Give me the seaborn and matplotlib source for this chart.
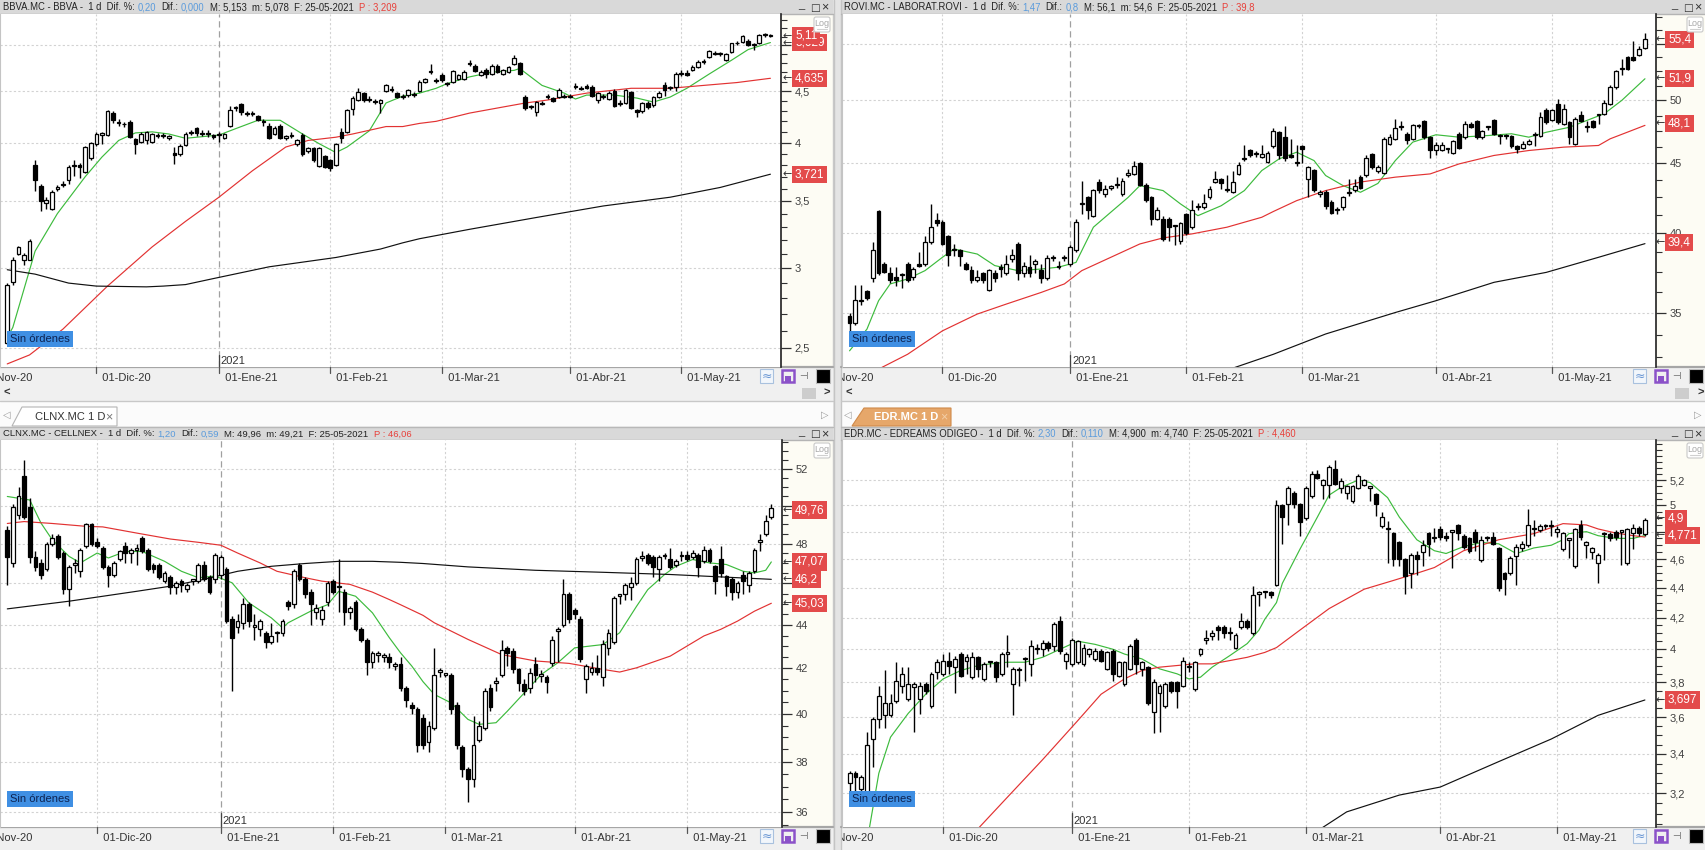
import numpy as np
import matplotlib
matplotlib.use("Agg")
import matplotlib.pyplot as plt
import seaborn as sns
from matplotlib.lines import Line2D
from matplotlib.patches import Rectangle, FancyBboxPatch, Polygon
from matplotlib.transforms import Affine2D, blended_transform_factory
from matplotlib.ticker import FixedLocator, FuncFormatter, NullFormatter

W, H = 1706, 850

GREEN = "#3dbb3d"
RED = "#e23232"
BLACK = "#111111"
TXT = "#222222"
BLUE_TXT = "#5a9bdc"
RED_TXT = "#e8403a"
LABEL_RED = "#e34b4b"

# ---- time axis: trading-day index, 0 = 09-Nov-2020 ----
month_day = [-6, 16, 38, 58, 78, 101, 121]
month_labels = ["01-Nov-20", "01-Dic-20", "01-Ene-21", "01-Feb-21", "01-Mar-21", "01-Abr-21", "01-May-21"]
year_day = 38

# ---- BBVA ----
bbva_open = [2.53, 2.91, 3.10, 3.06, 3.06, 3.80, 3.62, 3.48, 3.44, 3.60,
             3.63, 3.67, 3.79, 3.80, 3.74, 3.86, 3.99, 4.07, 4.07, 4.28,
             4.19, 4.17, 4.19, 4.03, 4.01, 4.02, 4.01, 4.07, 4.06, 4.04,
             3.91, 3.90, 3.98, 4.09, 4.14, 4.08, 4.09, 4.07, 4.07, 4.04,
             4.16, 4.33, 4.37, 4.28, 4.27, 4.25, 4.20, 4.16, 4.08, 4.16,
             4.04, 4.06, 3.99, 4.07, 3.92, 3.95, 3.79, 3.88, 3.84, 3.80,
             4.10, 4.10, 4.32, 4.41, 4.48, 4.42, 4.40, 4.38, 4.50, 4.51,
             4.48, 4.44, 4.46, 4.47, 4.50, 4.60, 4.70, 4.62, 4.67, 4.58,
             4.60, 4.63, 4.63, 4.80, 4.77, 4.67, 4.72, 4.68, 4.77, 4.68,
             4.70, 4.79, 4.80, 4.44, 4.34, 4.29, 4.38, 4.44, 4.43, 4.44,
             4.45, 4.44, 4.55, 4.53, 4.55, 4.54, 4.41, 4.44, 4.42, 4.50,
             4.37, 4.38, 4.49, 4.31, 4.30, 4.38, 4.36, 4.44, 4.56, 4.53,
             4.54, 4.68, 4.69, 4.72, 4.76, 4.81, 4.87, 4.91, 4.90, 4.83,
             4.92, 5.02, 5.04, 5.05, 5.00, 5.02, 5.12, 5.11]
bbva_high = [2.90, 3.08, 3.16, 3.11, 3.21, 3.84, 3.64, 3.53, 3.59, 3.63,
             3.66, 3.80, 3.84, 3.82, 3.97, 4.01, 4.10, 4.10, 4.31, 4.30,
             4.22, 4.19, 4.21, 4.04, 4.10, 4.11, 4.09, 4.09, 4.09, 4.07,
             3.96, 3.99, 4.10, 4.12, 4.15, 4.12, 4.12, 4.08, 4.10, 4.09,
             4.35, 4.35, 4.38, 4.30, 4.30, 4.26, 4.22, 4.18, 4.16, 4.17,
             4.07, 4.10, 4.03, 4.09, 3.96, 3.96, 3.96, 3.89, 3.85, 4.00,
             4.14, 4.32, 4.45, 4.53, 4.49, 4.45, 4.42, 4.42, 4.57, 4.55,
             4.49, 4.47, 4.52, 4.49, 4.62, 4.64, 4.79, 4.64, 4.69, 4.60,
             4.72, 4.68, 4.72, 4.83, 4.79, 4.72, 4.74, 4.79, 4.79, 4.73,
             4.77, 4.89, 4.81, 4.46, 4.36, 4.40, 4.40, 4.47, 4.44, 4.53,
             4.47, 4.47, 4.58, 4.55, 4.57, 4.56, 4.49, 4.47, 4.50, 4.52,
             4.41, 4.52, 4.50, 4.32, 4.39, 4.40, 4.45, 4.50, 4.60, 4.55,
             4.70, 4.72, 4.72, 4.78, 4.83, 4.84, 4.95, 4.93, 4.92, 4.91,
             5.03, 5.05, 5.12, 5.07, 5.02, 5.13, 5.14, 5.13]
bbva_low = [2.52, 2.89, 3.09, 3.02, 3.06, 3.58, 3.42, 3.44, 3.43, 3.58,
            3.61, 3.64, 3.71, 3.69, 3.73, 3.84, 3.97, 3.99, 4.06, 4.18,
            4.16, 4.15, 4.04, 3.90, 4.00, 3.99, 4.00, 4.04, 4.04, 4.02,
            3.81, 3.88, 3.97, 4.07, 4.06, 4.06, 4.05, 4.03, 4.01, 4.03,
            4.15, 4.30, 4.26, 4.25, 4.25, 4.20, 4.16, 4.03, 4.07, 4.03,
            4.02, 4.04, 3.97, 3.88, 3.91, 3.83, 3.78, 3.77, 3.75, 3.79,
            4.00, 4.09, 4.26, 4.40, 4.39, 4.39, 4.37, 4.28, 4.49, 4.49,
            4.43, 4.42, 4.44, 4.44, 4.49, 4.59, 4.68, 4.58, 4.60, 4.55,
            4.59, 4.62, 4.62, 4.77, 4.70, 4.66, 4.64, 4.67, 4.69, 4.67,
            4.69, 4.78, 4.67, 4.31, 4.32, 4.25, 4.36, 4.42, 4.39, 4.43,
            4.43, 4.43, 4.52, 4.51, 4.52, 4.44, 4.38, 4.42, 4.41, 4.34,
            4.35, 4.37, 4.32, 4.24, 4.28, 4.32, 4.34, 4.43, 4.45, 4.51,
            4.50, 4.66, 4.66, 4.71, 4.75, 4.79, 4.86, 4.89, 4.88, 4.82,
            4.91, 5.00, 5.03, 4.99, 4.94, 5.01, 5.10, 5.09]
bbva_close = [2.89, 3.06, 3.15, 3.09, 3.19, 3.67, 3.50, 3.51, 3.57, 3.61,
              3.64, 3.78, 3.80, 3.78, 3.96, 4.00, 4.08, 4.09, 4.30, 4.21,
              4.18, 4.17, 4.05, 3.99, 4.08, 4.10, 4.08, 4.06, 4.07, 4.06,
              3.89, 3.97, 4.08, 4.10, 4.09, 4.09, 4.08, 4.05, 4.08, 4.08,
              4.31, 4.34, 4.29, 4.27, 4.28, 4.21, 4.19, 4.04, 4.14, 4.04,
              4.06, 4.07, 4.02, 3.90, 3.95, 3.84, 3.95, 3.78, 3.77, 3.99,
              4.04, 4.31, 4.43, 4.49, 4.41, 4.41, 4.39, 4.41, 4.56, 4.52,
              4.44, 4.45, 4.51, 4.46, 4.60, 4.63, 4.71, 4.61, 4.62, 4.57,
              4.71, 4.67, 4.70, 4.79, 4.71, 4.70, 4.68, 4.77, 4.70, 4.72,
              4.76, 4.86, 4.68, 4.33, 4.35, 4.39, 4.37, 4.45, 4.40, 4.51,
              4.44, 4.45, 4.54, 4.52, 4.53, 4.45, 4.48, 4.45, 4.48, 4.35,
              4.38, 4.51, 4.33, 4.29, 4.38, 4.34, 4.44, 4.48, 4.51, 4.53,
              4.68, 4.68, 4.67, 4.76, 4.81, 4.81, 4.93, 4.90, 4.91, 4.90,
              5.02, 5.02, 5.11, 5.00, 5.00, 5.12, 5.12, 5.11]
bbva_fast_day = [0, 1, 5, 9, 14, 17, 20, 23, 26, 29, 32, 38, 41, 45, 49, 53, 56, 59, 61, 65, 68,
                 71, 74, 77, 79, 83, 87, 91, 92, 96, 100, 102, 104, 109, 113, 116, 119, 122, 126, 130, 133, 137]
bbva_fast = [2.56, 2.62, 3.12, 3.40, 3.70, 3.87, 4.02, 4.09, 4.10, 4.08, 4.04, 4.07, 4.13, 4.21, 4.21,
             4.08, 3.99, 3.91, 3.96, 4.11, 4.38, 4.45, 4.48, 4.53, 4.58, 4.65, 4.70, 4.72, 4.74, 4.56,
             4.48, 4.42, 4.46, 4.46, 4.43, 4.39, 4.44, 4.53, 4.68, 4.83, 4.95, 5.03]
bbva_mid_day = [0, 4, 10, 18, 26, 32, 38, 44, 50, 54, 59, 62, 68, 71, 74, 77, 83, 89, 93, 97, 104,
                112, 119, 125, 131, 137]
bbva_mid = [2.41, 2.46, 2.61, 2.88, 3.15, 3.34, 3.53, 3.75, 3.96, 4.02, 4.05, 4.08, 4.15, 4.15, 4.18,
            4.20, 4.28, 4.34, 4.38, 4.41, 4.48, 4.53, 4.53, 4.56, 4.59, 4.635]
bbva_slow_day = [0, 5, 11, 16, 25, 28, 32, 37, 47, 59, 67, 71, 74, 83, 95, 107, 119, 128, 137]
bbva_slow = [2.99, 2.96, 2.90, 2.88, 2.875, 2.88, 2.89, 2.93, 3.01, 3.075, 3.135, 3.18, 3.21, 3.28,
             3.37, 3.46, 3.53, 3.61, 3.721]
bbva_ylim = (2.393, 5.37)
bbva_major = [2.5, 3, 3.5, 4, 4.5, 5]
bbva_minor = [2.6, 2.7, 2.8, 2.9, 3.1, 3.2, 3.3, 3.4, 3.6, 3.7, 3.8, 3.9, 4.1, 4.2, 4.3, 4.4,
              4.6, 4.7, 4.8, 4.9, 5.1, 5.2, 5.3]
bbva_tags = [5.029, 5.11, 4.635, 3.721]
bbva_tag_text = ["5,029", "5,11", "4,635", "3,721"]

# ---- ROVI ----
rovi_open = [34.8, 34.4, 35.7, 36.3, 37.1, 41.5, 38.0, 37.4, 37.2, 37.3,
             38.0, 37.2, 38.0, 38.0, 39.4, 40.9, 40.8, 39.8, 38.9, 38.9,
             38.0, 37.6, 37.0, 37.4, 36.4, 37.4, 37.8, 37.4, 38.3, 39.3,
             37.4, 37.8, 38.0, 37.6, 37.1, 38.4, 37.8, 38.4, 38.0, 38.9,
             42.0, 42.5, 41.2, 43.6, 42.7, 43.2, 43.4, 42.7, 44.1, 44.2,
             45.0, 43.4, 42.5, 41.0, 41.0, 41.0, 40.5, 39.5, 41.3, 40.4,
             41.8, 41.8, 42.5, 43.6, 43.8, 43.0, 42.9, 44.2, 45.3, 46.0,
             45.7, 45.5, 45.1, 46.3, 47.4, 47.0, 45.6, 45.0, 46.3, 43.8,
             44.5, 42.7, 42.9, 42.2, 41.6, 41.8, 42.8, 43.0, 44.0, 44.1,
             45.7, 44.4, 44.3, 46.5, 46.9, 47.9, 47.3, 46.9, 47.9, 48.3,
             47.0, 46.0, 46.0, 46.1, 45.8, 47.3, 47.0, 48.1, 48.3, 47.0,
             47.8, 48.4, 47.1, 47.1, 47.1, 46.3, 46.2, 46.5, 47.2, 47.1,
             49.2, 48.4, 49.7, 48.1, 48.2, 46.5, 48.8, 47.8, 48.3, 48.8,
             48.9, 49.7, 51.1, 52.7, 53.8, 53.8, 54.0, 54.6]
rovi_high = [35.0, 36.7, 36.7, 36.4, 39.4, 41.6, 38.1, 37.8, 37.8, 37.4,
             38.1, 37.8, 38.8, 39.8, 42.0, 41.4, 40.9, 39.9, 39.3, 39.0,
             38.1, 37.9, 37.6, 37.5, 37.7, 37.6, 38.0, 38.6, 39.0, 39.4,
             38.1, 38.6, 38.3, 38.0, 38.6, 38.6, 38.2, 38.6, 39.2, 41.0,
             43.7, 42.6, 43.1, 43.8, 43.4, 43.4, 44.0, 43.9, 44.6, 45.2,
             45.1, 43.5, 42.6, 41.8, 41.2, 41.1, 40.6, 40.8, 41.4, 42.3,
             42.1, 42.7, 43.3, 44.4, 43.9, 44.1, 44.4, 45.1, 46.4, 46.1,
             45.9, 46.4, 45.9, 47.7, 47.5, 47.9, 46.9, 46.4, 46.4, 44.8,
             44.6, 43.0, 43.0, 42.3, 41.8, 42.6, 43.8, 43.8, 44.1, 45.6,
             45.8, 44.9, 47.0, 47.3, 48.5, 48.3, 47.4, 48.1, 48.1, 48.4,
             47.1, 46.6, 46.6, 46.2, 46.8, 47.4, 48.3, 48.2, 48.4, 47.6,
             47.9, 48.5, 47.3, 47.3, 47.2, 46.4, 46.7, 46.9, 47.4, 49.0,
             49.4, 49.3, 50.1, 49.7, 48.3, 48.6, 49.1, 48.3, 48.4, 48.9,
             50.0, 51.3, 52.6, 53.6, 53.9, 55.2, 54.8, 56.0]
rovi_low = [33.2, 34.3, 35.5, 35.8, 36.9, 37.3, 37.4, 36.8, 36.6, 36.5,
            36.9, 37.0, 37.8, 37.9, 39.3, 40.5, 39.2, 37.9, 38.5, 37.9,
            37.6, 36.8, 36.9, 36.8, 36.3, 36.9, 37.2, 37.3, 38.1, 37.0,
            37.2, 37.2, 37.4, 36.8, 37.0, 38.2, 37.7, 38.2, 37.9, 38.8,
            41.3, 41.0, 41.1, 42.8, 42.5, 43.0, 43.2, 42.6, 44.0, 44.1,
            43.3, 42.2, 40.6, 40.9, 39.5, 39.5, 39.2, 39.3, 39.9, 40.3,
            41.6, 41.7, 42.4, 43.5, 43.1, 42.9, 42.8, 44.1, 45.2, 45.5,
            45.5, 45.4, 45.0, 46.2, 45.3, 45.2, 45.4, 44.8, 45.0, 42.5,
            42.9, 42.5, 41.7, 41.3, 41.3, 41.6, 42.6, 42.9, 43.1, 44.0,
            44.6, 44.3, 44.2, 46.4, 46.8, 47.6, 46.5, 46.8, 47.7, 46.9,
            45.4, 45.6, 45.9, 45.8, 45.7, 46.1, 46.9, 47.7, 46.9, 46.9,
            47.6, 47.2, 46.5, 46.9, 46.2, 45.8, 46.1, 46.4, 46.3, 47.0,
            48.1, 48.3, 48.1, 48.0, 46.5, 46.4, 48.2, 47.4, 47.7, 48.1,
            48.8, 49.6, 51.0, 52.2, 52.6, 53.4, 53.9, 54.5]
rovi_close = [34.4, 35.8, 35.8, 35.9, 38.9, 37.4, 37.5, 37.0, 37.0, 37.3,
              37.0, 37.7, 37.9, 39.4, 40.4, 40.7, 39.3, 38.6, 38.9, 38.5,
              37.7, 37.0, 37.2, 37.0, 37.6, 37.1, 37.7, 38.0, 38.6, 37.4,
              37.9, 37.4, 38.2, 37.1, 38.4, 38.4, 37.9, 38.4, 39.1, 40.8,
              42.0, 41.6, 43.0, 43.0, 43.1, 43.2, 43.4, 43.7, 44.3, 44.8,
              43.4, 42.3, 41.0, 41.6, 39.6, 40.4, 40.5, 40.7, 40.0, 41.6,
              41.9, 42.1, 43.1, 43.8, 43.5, 43.0, 43.6, 44.9, 45.4, 45.6,
              45.7, 45.7, 45.8, 47.5, 45.6, 45.4, 45.5, 45.0, 46.1, 44.7,
              43.0, 42.9, 41.9, 41.4, 41.6, 42.5, 42.8, 43.3, 43.2, 45.4,
              44.7, 44.7, 46.9, 47.0, 47.7, 47.8, 46.8, 48.0, 47.9, 47.0,
              46.0, 46.4, 46.4, 46.1, 46.7, 46.2, 48.1, 47.8, 47.0, 47.5,
              47.8, 47.3, 47.1, 47.2, 46.3, 46.1, 46.5, 46.7, 47.2, 48.6,
              48.2, 49.2, 48.2, 49.3, 47.0, 48.5, 48.3, 47.8, 47.8, 48.8,
              49.8, 51.1, 52.5, 52.7, 52.7, 53.5, 54.5, 55.4]
rovi_fast_day = [0, 3, 5, 7, 10, 13, 16, 18, 22, 25, 29, 33, 36, 39, 42, 45, 48, 50, 54, 57, 60, 64,
                 68, 71, 74, 77, 80, 82, 85, 88, 91, 94, 97, 101, 105, 110, 114, 117, 120, 124, 127,
                 130, 133, 137]
rovi_fast = [32.85, 34.07, 35.73, 36.75, 37.06, 37.58, 38.43, 38.97, 38.64, 37.9, 37.58, 37.68, 37.8,
             38.1, 40.42, 41.45, 42.5, 43.34, 42.98, 42.03, 41.21, 41.9, 42.98, 44.45, 45.33, 45.84,
             45.2, 44.08, 43.34, 42.86, 43.5, 45.2, 46.62, 47.2, 47.01, 47.14, 47.28, 47.01, 47.4,
             47.8, 48.35, 48.9, 50.0, 51.85]
rovi_mid_day = [4, 10, 16, 22, 27, 33, 37, 40, 45, 50, 54, 59, 65, 71, 73, 77, 82, 88, 94, 100, 105,
                111, 117, 123, 129, 131, 134, 137]
rovi_mid = [31.7, 32.66, 33.97, 34.94, 35.53, 36.23, 36.75, 37.58, 38.43, 39.30, 39.70, 39.97, 40.42,
            41.1, 41.5, 42.26, 42.98, 43.6, 43.96, 44.2, 44.95, 45.59, 45.97, 46.23, 46.36, 46.88,
            47.41, 47.95]
rovi_slow_day = [65, 73, 82, 94, 101, 111, 120, 129, 137]
rovi_slow = [31.8, 32.66, 33.79, 35.03, 35.73, 36.85, 37.47, 38.43, 39.32]
rovi_ylim = (31.97, 57.8)
rovi_major = [35, 40, 45, 50, 55]
rovi_minor = [32.5, 33.75, 36.25, 37.5, 38.75, 41.25, 42.5, 43.75, 46.25, 47.5, 48.75, 51.25, 52.5,
              53.75, 56.25, 57.5]
rovi_tags = [55.4, 51.9, 48.1, 39.4]
rovi_tag_text = ["55,4", "51,9", "48,1", "39,4"]

# ---- CLNX ----
clnx_open = [48.7, 47.0, 49.5, 51.6, 49.9, 47.3, 47.0, 46.7, 48.0, 48.4,
             47.5, 45.7, 46.9, 46.6, 47.9, 49.0, 48.1, 47.8, 46.8, 46.4,
             47.2, 47.9, 47.5, 47.7, 48.3, 47.7, 46.9, 46.9, 46.1, 46.3,
             45.8, 46.1, 45.7, 46.1, 46.1, 46.9, 46.3, 46.2, 46.4, 46.7,
             44.3, 43.9, 44.1, 45.0, 43.9, 43.8, 43.6, 43.2, 43.6, 43.6,
             45.1, 45.0, 46.9, 46.2, 45.6, 44.6, 44.3, 45.1, 46.1, 45.8,
             45.6, 44.6, 45.1, 43.8, 43.3, 42.3, 42.6, 42.5, 42.5, 42.1,
             42.2, 41.1, 40.4, 40.2, 39.8, 38.8, 39.4, 41.85, 41.7, 41.7,
             40.4, 38.6, 37.7, 37.3, 38.9, 39.4, 41.1, 41.35, 41.7, 42.9,
             42.8, 41.95, 41.3, 41.1, 42.2, 41.65, 41.6, 42.25, 43.7, 44.0,
             45.5, 44.7, 44.3, 41.5, 41.85, 42.0, 41.6, 42.9, 43.2, 45.37,
             45.5, 45.8, 46.0, 47.27, 47.4, 47.3, 46.7, 47.35, 47.2, 46.9,
             47.35, 47.4, 47.3, 47.4, 47.1, 47.7, 46.85, 47.2, 46.35, 46.2,
             45.6, 46.4, 45.9, 46.6, 48.07, 48.5, 49.4]
clnx_high = [48.9, 50.1, 51.0, 52.5, 50.4, 47.6, 47.2, 48.1, 48.5, 48.5,
             47.6, 46.9, 47.2, 47.8, 49.1, 49.1, 48.3, 47.9, 46.9, 47.1,
             47.7, 48.1, 47.8, 48.0, 48.4, 47.8, 47.0, 47.0, 46.6, 46.4,
             46.1, 46.2, 46.0, 46.2, 47.0, 47.1, 46.4, 47.5, 47.4, 46.8,
             44.4, 44.5, 45.3, 45.1, 44.5, 44.3, 43.7, 44.1, 43.7, 44.3,
             45.2, 46.7, 47.0, 46.3, 45.7, 45.0, 44.9, 46.1, 46.2, 47.2,
             45.7, 44.9, 45.2, 43.9, 43.4, 42.8, 42.8, 42.7, 42.7, 42.3,
             42.5, 41.2, 40.5, 40.3, 40.0, 39.7, 42.9, 42.0, 41.8, 41.8,
             40.5, 38.7, 37.8, 39.9, 39.7, 41.1, 41.3, 41.6, 43.3, 43.0,
             42.9, 42.0, 41.5, 42.0, 42.5, 41.9, 41.7, 43.5, 43.9, 46.2,
             45.6, 44.8, 44.4, 42.2, 42.3, 42.6, 43.3, 43.8, 45.4, 45.5,
             46.0, 46.3, 47.3, 47.6, 47.5, 47.4, 47.4, 47.5, 47.8, 47.2,
             47.6, 47.6, 47.7, 47.5, 47.9, 47.8, 46.9, 47.9, 46.4, 46.3,
             46.1, 46.6, 46.6, 47.8, 48.5, 49.5, 50.1]
clnx_low = [45.9, 46.8, 49.3, 49.3, 47.0, 46.6, 46.2, 46.6, 47.9, 47.2,
            45.5, 44.9, 46.5, 46.3, 47.8, 47.9, 47.8, 46.7, 45.8, 46.3,
            47.1, 47.0, 47.0, 46.9, 47.5, 46.6, 46.5, 46.2, 46.0, 45.5,
            45.5, 45.6, 45.6, 45.9, 46.0, 46.1, 45.5, 46.0, 46.2, 44.1,
            41.0, 43.6, 43.8, 43.9, 43.3, 43.5, 42.9, 43.1, 43.2, 43.5,
            44.7, 44.8, 46.1, 45.3, 44.0, 44.3, 44.0, 44.9, 45.5, 44.6,
            44.0, 44.3, 43.7, 43.2, 41.7, 42.0, 42.3, 42.3, 42.0, 41.9,
            41.0, 40.3, 40.0, 38.4, 38.5, 38.4, 39.3, 41.6, 41.6, 40.0,
            38.5, 37.4, 36.4, 37.0, 38.8, 39.3, 40.1, 41.0, 41.6, 42.1,
            41.8, 41.0, 40.8, 40.9, 41.4, 41.4, 40.9, 42.1, 42.3, 43.9,
            44.1, 44.3, 42.3, 40.9, 41.7, 41.7, 41.2, 42.6, 43.1, 45.0,
            45.2, 45.2, 45.9, 47.1, 46.9, 46.3, 46.1, 47.2, 46.7, 46.8,
            47.1, 47.1, 47.2, 46.3, 47.0, 47.0, 45.5, 46.3, 45.4, 45.2,
            45.3, 45.5, 45.6, 46.5, 47.6, 48.4, 49.3]
clnx_close = [47.3, 49.95, 50.5, 49.4, 47.3, 46.8, 46.4, 48.0, 48.3, 47.3,
              45.7, 46.8, 46.9, 47.7, 49.0, 48.0, 47.9, 46.8, 46.4, 47.0,
              47.6, 47.5, 47.7, 47.7, 47.6, 46.7, 46.7, 46.3, 46.5, 45.8,
              46.0, 45.9, 45.9, 46.1, 46.9, 46.2, 45.6, 47.4, 47.3, 44.2,
              43.4, 44.2, 45.0, 44.2, 44.0, 44.2, 43.2, 43.5, 43.6, 44.2,
              44.9, 46.6, 46.2, 45.5, 45.0, 44.8, 44.7, 46.0, 45.6, 45.8,
              44.6, 44.8, 43.8, 43.3, 42.3, 42.7, 42.6, 42.5, 42.3, 42.1,
              41.1, 40.6, 40.25, 38.7, 38.7, 39.5, 41.7, 41.85, 41.7, 40.2,
              38.7, 37.7, 37.3, 38.7, 39.5, 41.0, 40.3, 41.35, 42.85, 42.7,
              41.95, 41.35, 41.0, 41.8, 41.7, 41.65, 41.4, 43.3, 43.7, 45.5,
              44.3, 44.5, 42.4, 42.1, 42.0, 41.85, 43.1, 43.6, 45.3, 45.37,
              45.9, 46.0, 47.2, 47.27, 47.0, 46.8, 47.3, 47.35, 46.8, 47.1,
              47.35, 47.2, 47.5, 46.8, 47.7, 47.1, 46.1, 46.5, 45.85, 45.6,
              46.0, 46.1, 46.5, 47.7, 48.07, 49.2, 49.85]
clnx_fast_day = [0, 4, 6, 8, 11, 13, 16, 18, 21, 24, 28, 31, 34, 37, 40, 43, 47, 49, 50, 54, 57, 59,
                 62, 65, 68, 70, 72, 74, 76, 79, 82, 84, 87, 89, 92, 95, 98, 101, 106, 109, 112, 114,
                 117, 119, 122, 125, 128, 131, 133, 135, 136]
clnx_fast = [50.49, 50.3, 49.07, 48.2, 47.35, 47.02, 47.52, 47.27, 47.6, 47.6, 47.1, 46.6, 46.28,
             46.36, 46.03, 45.05, 44.33, 43.86, 44.10, 44.65, 44.96, 45.61, 45.37, 44.57, 43.40,
             42.7, 42.1, 41.4, 40.84, 40.47, 39.76, 39.55, 39.62, 40.11, 40.9, 41.71, 42.25, 42.93,
             43.08, 43.63, 44.88, 45.69, 46.44, 46.85, 47.19, 47.02, 46.94, 46.60, 46.52, 46.65, 47.07]
clnx_mid_day = [0, 3, 8, 14, 17, 23, 29, 34, 38, 41, 45, 48, 53, 56, 61, 65, 68, 70, 74, 76, 82, 88,
                94, 100, 106, 109, 112, 118, 124, 127, 130, 133, 136]
clnx_mid = [49.05, 49.15, 49.05, 48.90, 48.87, 48.55, 48.24, 48.07, 47.92, 47.52, 47.02, 46.6, 46.28,
            46.11, 45.95, 45.57, 45.21, 44.96, 44.45, 44.10, 43.32, 42.62, 42.33, 42.22, 41.95, 41.83,
            42.02, 42.55, 43.48, 43.79, 44.18, 44.65, 45.03]
clnx_slow_day = [0, 11, 23, 29, 35, 41, 47, 53, 59, 65, 70, 74, 82, 94, 106, 118, 130, 136]
clnx_slow = [44.76, 45.13, 45.61, 45.86, 46.2, 46.6, 46.85, 46.99, 47.10, 47.10, 47.05, 46.99, 46.82,
             46.65, 46.55, 46.44, 46.28, 46.2]
clnx_ylim = (35.43, 53.64)
clnx_major = [36, 38, 40, 42, 44, 46, 48, 50, 52]
clnx_minor = [35.5, 36.5, 37, 37.5, 38.5, 39, 39.5, 40.5, 41, 41.5, 42.5, 43, 43.5, 44.5, 45, 45.5,
              46.5, 47, 47.5, 48.5, 49, 49.5, 50.5, 51, 51.5, 52.5, 53, 53.5]
clnx_tags = [49.76, 47.07, 46.2, 45.03]
clnx_tag_text = ["49,76", "47,07", "46,2", "45,03"]

# ---- EDR ----
edr_open = [3.25, 3.30, 3.22, 3.20, 3.48, 3.59, 3.61, 3.61, 3.69, 3.78,
            3.70, 3.77, 3.70, 3.79, 3.66, 3.86, 3.85, 3.93, 3.89, 3.97,
            3.93, 3.83, 3.95, 3.82, 3.92, 3.92, 3.85, 3.97, 3.79, 3.88,
            3.94, 3.91, 4.00, 4.00, 4.04, 4.02, 4.18, 3.93, 3.91, 3.92,
            3.91, 3.97, 3.94, 3.99, 3.88, 3.99, 3.84, 3.79, 3.88, 4.06,
            3.88, 3.89, 3.63, 3.74, 3.66, 3.80, 3.80, 3.78, 3.89, 3.76,
            3.97, 4.06, 4.08, 4.14, 4.14, 4.10, 4.01, 4.14, 4.18, 4.10,
            4.36, 4.37, 4.37, 4.42, 5.00, 5.01, 5.10, 5.01, 4.90, 5.07,
            5.25, 5.16, 5.16, 5.29, 5.14, 5.10, 5.03, 5.14, 5.16, 5.14,
            5.09, 4.84, 4.82, 4.79, 4.72, 4.60, 4.50, 4.63, 4.65, 4.79,
            4.75, 4.82, 4.77, 4.80, 4.85, 4.77, 4.75, 4.80, 4.59, 4.75,
            4.76, 4.68, 4.50, 4.50, 4.62, 4.68, 4.70, 4.82, 4.81, 4.84,
            4.84, 4.80, 4.67, 4.74, 4.55, 4.85, 4.70, 4.65, 4.57, 4.78,
            4.78, 4.80, 4.80, 4.57, 4.79, 4.83, 4.78]
edr_high = [3.31, 3.31, 3.29, 3.52, 3.60, 3.78, 3.87, 3.73, 3.92, 3.89,
            3.89, 3.80, 3.80, 3.80, 3.86, 3.94, 3.97, 3.98, 3.96, 3.98,
            3.97, 3.98, 3.96, 3.92, 3.93, 3.93, 3.98, 4.09, 3.89, 3.89,
            3.95, 4.06, 4.03, 4.06, 4.05, 4.17, 4.21, 3.98, 4.07, 4.06,
            4.03, 4.01, 4.01, 4.00, 3.99, 4.00, 3.93, 3.93, 4.03, 4.07,
            3.93, 3.90, 3.82, 3.79, 3.80, 3.81, 3.81, 3.95, 3.92, 3.93,
            4.01, 4.12, 4.12, 4.15, 4.15, 4.14, 4.10, 4.23, 4.19, 4.41,
            4.38, 4.38, 4.38, 5.04, 5.01, 5.15, 5.11, 5.02, 5.15, 5.27,
            5.28, 5.21, 5.32, 5.36, 5.22, 5.16, 5.16, 5.25, 5.21, 5.15,
            5.10, 4.95, 4.88, 4.80, 4.73, 4.61, 4.64, 4.66, 4.74, 4.80,
            4.83, 4.84, 4.80, 4.81, 4.86, 4.78, 4.76, 4.82, 4.77, 4.77,
            4.80, 4.69, 4.51, 4.62, 4.71, 4.73, 4.97, 4.89, 4.86, 4.86,
            4.89, 4.84, 4.80, 4.75, 4.83, 4.89, 4.73, 4.69, 4.64, 4.80,
            4.80, 4.81, 4.81, 4.83, 4.86, 4.84, 4.90]
edr_low = [3.14, 3.20, 3.21, 3.19, 3.33, 3.54, 3.54, 3.60, 3.68, 3.74,
           3.69, 3.52, 3.62, 3.73, 3.65, 3.82, 3.84, 3.85, 3.74, 3.83,
           3.85, 3.82, 3.83, 3.81, 3.89, 3.80, 3.84, 3.89, 3.61, 3.78,
           3.81, 3.84, 3.97, 3.96, 3.99, 3.99, 3.97, 3.88, 3.90, 3.91,
           3.90, 3.95, 3.93, 3.92, 3.87, 3.81, 3.83, 3.78, 3.87, 3.85,
           3.84, 3.67, 3.51, 3.52, 3.65, 3.74, 3.65, 3.77, 3.86, 3.75,
           3.96, 4.03, 4.06, 4.06, 4.07, 4.06, 4.00, 4.13, 4.13, 4.09,
           4.28, 4.33, 4.33, 4.41, 4.71, 4.85, 4.98, 4.77, 4.89, 5.06,
           5.21, 5.05, 5.06, 5.16, 5.10, 5.05, 5.02, 5.13, 5.15, 5.03,
           4.92, 4.83, 4.57, 4.55, 4.55, 4.36, 4.40, 4.49, 4.55, 4.62,
           4.72, 4.74, 4.73, 4.54, 4.74, 4.67, 4.64, 4.66, 4.58, 4.73,
           4.70, 4.38, 4.35, 4.49, 4.42, 4.66, 4.69, 4.77, 4.80, 4.82,
           4.77, 4.76, 4.66, 4.61, 4.54, 4.74, 4.61, 4.60, 4.43, 4.59,
           4.73, 4.74, 4.56, 4.56, 4.67, 4.77, 4.77]
edr_close = [3.30, 3.28, 3.28, 3.45, 3.59, 3.72, 3.68, 3.68, 3.81, 3.85,
             3.79, 3.79, 3.78, 3.75, 3.85, 3.92, 3.93, 3.90, 3.94, 3.84,
             3.95, 3.95, 3.88, 3.91, 3.92, 3.83, 3.97, 3.98, 3.88, 3.87,
             3.94, 4.02, 4.00, 4.04, 4.01, 4.16, 3.99, 3.97, 4.06, 4.05,
             4.01, 4.00, 3.99, 3.93, 3.98, 3.85, 3.92, 3.92, 4.02, 3.91,
             3.92, 3.68, 3.80, 3.78, 3.79, 3.75, 3.75, 3.93, 3.89, 3.92,
             4.00, 4.06, 4.10, 4.12, 4.10, 4.10, 4.09, 4.18, 4.14, 4.35,
             4.36, 4.37, 4.35, 5.00, 4.91, 5.14, 5.01, 4.87, 5.14, 5.25,
             5.22, 5.20, 5.31, 5.17, 5.19, 5.15, 5.15, 5.23, 5.20, 5.14,
             5.01, 4.91, 4.82, 4.60, 4.60, 4.48, 4.63, 4.60, 4.70, 4.71,
             4.75, 4.76, 4.75, 4.80, 4.79, 4.69, 4.66, 4.72, 4.74, 4.75,
             4.71, 4.40, 4.46, 4.61, 4.69, 4.71, 4.85, 4.82, 4.84, 4.84,
             4.84, 4.82, 4.79, 4.74, 4.82, 4.76, 4.72, 4.68, 4.63, 4.78,
             4.75, 4.76, 4.80, 4.82, 4.83, 4.79, 4.89]
edr_fast_day = [3, 5, 7, 10, 13, 16, 19, 22, 24, 27, 30, 33, 36, 39, 42, 45, 47, 50, 53, 56, 58, 60,
                62, 65, 68, 70, 71, 73, 74, 77, 80, 82, 84, 87, 89, 92, 94, 97, 100, 102, 105, 108,
                111, 114, 117, 120, 122, 123, 126, 128, 131, 134, 136]
edr_fast = [2.97, 3.30, 3.49, 3.62, 3.73, 3.82, 3.87, 3.90, 3.91, 3.92, 3.92, 3.95, 4.00, 4.05, 4.03,
            4.00, 3.97, 3.94, 3.88, 3.85, 3.82, 3.83, 3.89, 3.96, 4.035, 4.12, 4.19, 4.30, 4.43, 4.67,
            4.91, 5.08, 5.14, 5.20, 5.18, 5.06, 4.91, 4.74, 4.66, 4.64, 4.69, 4.72, 4.71, 4.64, 4.68,
            4.70, 4.74, 4.785, 4.80, 4.77, 4.75, 4.75, 4.771]
edr_mid_day = [21, 27, 33, 39, 43, 47, 50, 53, 59, 62, 68, 71, 73, 77, 82, 88, 93, 97, 100, 105, 111,
               117, 122, 126, 128, 131, 134, 136]
edr_mid = [3.0, 3.18, 3.37, 3.58, 3.73, 3.82, 3.87, 3.89, 3.91, 3.91, 3.95, 3.98, 4.01, 4.12, 4.26,
           4.39, 4.45, 4.50, 4.54, 4.66, 4.74, 4.785, 4.86, 4.85, 4.82, 4.79, 4.77, 4.76]
edr_slow_day = [79, 85, 94, 101, 111, 120, 128, 136]
edr_slow = [3.00, 3.108, 3.19, 3.23, 3.36, 3.48, 3.61, 3.697]
edr_ylim = (3.036, 5.533)
edr_major = [3.2, 3.4, 3.6, 3.8, 4, 4.2, 4.4, 4.6, 4.8, 5, 5.2]
edr_minor = [3.05, 3.1, 3.15, 3.25, 3.3, 3.35, 3.45, 3.5, 3.55, 3.65, 3.7, 3.75, 3.85, 3.9, 3.95,
             4.05, 4.1, 4.15, 4.25, 4.3, 4.35, 4.45, 4.5, 4.55, 4.65, 4.7, 4.75, 4.85, 4.9, 4.95,
             5.05, 5.1, 5.15, 5.25, 5.3, 5.35, 5.4, 5.45, 5.5]
edr_tags = [4.9, 4.771, 3.697]
edr_tag_text = ["4,9", "4,771", "3,697"]

# header strings: (text, colour)
bbva_header = [("BBVA.MC - BBVA -  1 d  Dif. %:", TXT), (" 0,20", BLUE_TXT), ("  Dif.:", TXT),
               (" 0,000", BLUE_TXT), ("  M: 5,153  m: 5,078  F: 25-05-2021", TXT), ("  P : 3,209", RED_TXT)]
rovi_header = [("ROVI.MC - LABORAT.ROVI -  1 d  Dif. %:", TXT), (" 1,47", BLUE_TXT), ("  Dif.:", TXT),
               (" 0,8", BLUE_TXT), ("  M: 56,1  m: 54,6  F: 25-05-2021", TXT), ("  P : 39,8", RED_TXT)]
clnx_header = [("CLNX.MC - CELLNEX -  1 d  Dif. %:", TXT), (" 1,20", BLUE_TXT), ("  Dif.:", TXT),
               (" 0,59", BLUE_TXT), ("  M: 49,96  m: 49,21  F: 25-05-2021", TXT), ("  P : 46,06", RED_TXT)]
edr_header = [("EDR.MC - EDREAMS ODIGEO -  1 d  Dif. %:", TXT), (" 2,30", BLUE_TXT), ("  Dif.:", TXT),
              (" 0,110", BLUE_TXT), ("  M: 4,900  m: 4,740  F: 25-05-2021", TXT), ("  P : 4,460", RED_TXT)]

sns.set_theme(style="white")
plt.rcParams["font.family"] = ["Liberation Sans Narrow", "Liberation Sans", "DejaVu Sans"]

fig = plt.figure(figsize=(W / 100, H / 100), dpi=100, facecolor="#f0f0f0")
renderer = fig.canvas.get_renderer()
PX = Affine2D().scale(1, -1).translate(0, H)   # pixel coords, origin top-left


def px_axes(x0, y0, x1, y1):
    return fig.add_axes([x0 / W, 1 - y1 / H, (x1 - x0) / W, (y1 - y0) / H])


def rect(x0, y0, x1, y1, fc, ec="none", lw=0.0, z=-1):
    fig.add_artist(Rectangle((x0, y0), x1 - x0, y1 - y0, transform=PX, facecolor=fc,
                             edgecolor=ec, linewidth=lw, zorder=z))


def line(x0, y0, x1, y1, c, lw=1.0, z=-0.5):
    fig.add_artist(Line2D([x0, x1], [y0, y1], transform=PX, color=c, linewidth=lw, zorder=z))


def ftext(x, y, s, **kw):
    kw.setdefault("va", "center")
    kw.setdefault("ha", "left")
    return fig.text(x, y, s, transform=PX, **kw)


def text_w(s, size):
    t = ftext(0, 0, s + "|", fontsize=size)
    a = t.get_window_extent(renderer).width
    t.set_text("|")
    b = t.get_window_extent(renderer).width
    t.remove()
    return a - b


def header(x0, y0, x1, y1, parts, target_w):
    rect(x0, y0, x1, y1, "#d9d9d9")
    line(x0, y1 - 0.5, x1, y1 - 0.5, "#b4b4b4", 1)
    full = "".join(s for s, _ in parts)
    size = 8 * target_w / text_w(full, 8)
    pos = 0
    yc = (y0 + y1) / 2 + 0.5
    for s, col in parts:
        lead = len(s) - len(s.lstrip())
        ftext(x0 + 3 + text_w(full[:pos + lead], size), yc, s.strip(), color=col, fontsize=size)
        pos += len(s)
    ftext(x1 - 35, yc - 2, "_", color="#333", fontsize=8)
    ftext(x1 - 23, yc, "\u25a1", color="#333", fontsize=7.5, family="DejaVu Sans")
    ftext(x1 - 12, yc, "\u00d7", color="#333", fontsize=9)


def candles(ax, o, h, l, c):
    o, h, l, c = (np.asarray(v, float) for v in (o, h, l, c))
    x = np.arange(len(c))
    ax.vlines(x, l, h, color="black", linewidth=1.0, zorder=3)
    lo = np.minimum(o, c)
    body = np.maximum(np.abs(c - o), lo * 0.002)
    up = c >= o
    ax.bar(x[up], body[up], bottom=lo[up], width=0.66, color="white", edgecolor="black",
           linewidth=0.9, zorder=4)
    ax.bar(x[~up], body[~up], bottom=lo[~up], width=0.66, color="black", edgecolor="black",
           linewidth=0.9, zorder=4)


def comma(v, pos=None):
    return f"{v:g}".replace(".", ",")


def draw_panel(p):
    x0, y0, x1, y1 = p["plot"]
    xr = p["right"]
    n = len(p["c"])
    # backgrounds
    rect(x1, y0, xr, y1, "#fdfcf4")
    line(xr - 0.5, y0, xr - 0.5, y1, "#c8c8c8", 1)
    header(*p["hdr"], p["header"], p["hdr_w"])

    ax = px_axes(x0, y0, x1, y1)
    ax.set_facecolor("white")
    ax.set_yscale("log")
    for v in p["major"]:
        ax.axhline(v, color="#d2d2d2", linestyle=(0, (2, 2)), linewidth=0.8, zorder=0.5)
    for d in month_day[1:]:
        if d == year_day:
            ax.axvline(d, color="#a0a0a0", linestyle=(0, (5, 3)), linewidth=0.9, zorder=0.6)
        else:
            ax.axvline(d, color="#d2d2d2", linestyle=(0, (2, 2)), linewidth=0.8, zorder=0.5)

    for days, vals, col in p["ma"]:
        sns.lineplot(x=days, y=vals, ax=ax, color=col, linewidth=0.85, zorder=2)
    candles(ax, p["o"], p["h"], p["l"], p["c"])

    ax.set_xlim(-1.3, n + 0.9)
    ax.set_ylim(*p["ylim"])
    ax.set_xlabel("")
    ax.set_ylabel("")
    ax.yaxis.tick_right()
    ax.yaxis.set_major_locator(FixedLocator(p["major"]))
    ax.yaxis.set_minor_locator(FixedLocator(p["minor"]))
    ax.yaxis.set_major_formatter(FuncFormatter(comma))
    ax.yaxis.set_minor_formatter(NullFormatter())
    ax.tick_params(axis="y", which="major", length=7, width=0.9, color="#303030", labelsize=8,
                   labelcolor="#404040", pad=3, right=True, left=False, labelright=True, labelleft=False)
    ax.tick_params(axis="y", which="minor", length=4, width=0.8, color="#303030", right=True, left=False)
    ax.tick_params(axis="x", bottom=False, labelbottom=False)
    for s in ["top", "bottom"]:
        ax.spines[s].set_visible(False)
    ax.spines["right"].set_color("#202020")
    ax.spines["right"].set_linewidth(1.2)
    ax.spines["left"].set_color("#c4c4c4")
    ax.spines["left"].set_linewidth(0.8)

    # year marker
    bt = blended_transform_factory(ax.transData, ax.transAxes)
    ax.plot([year_day, year_day], [0, 0.035], transform=bt, color="#444", linewidth=0.9, zorder=3)
    ax.annotate("2021", xy=(year_day, 0), xycoords=bt, xytext=(2, 1), textcoords="offset pixels",
                ha="left", va="bottom", fontsize=8, color="#333")
    # order status box
    ax.annotate("Sin \u00f3rdenes", xy=(0, 0), xycoords="axes fraction", xytext=(10, 23),
                textcoords="offset pixels", ha="left", va="bottom", fontsize=8, color="#0d2250",
                bbox=dict(boxstyle="square,pad=0.25", fc="#3f8fe3", ec="none"), zorder=10)
    # price tags on the axis
    yt = ax.get_yaxis_transform()
    for val, txt in zip(p["tags"], p["tag_text"]):
        ax.annotate(txt, xy=(1, val), xycoords=yt, xytext=(p["tag_dx"] + 3, 0),
                    textcoords="offset pixels", ha="left", va="center", color="white", fontsize=8.5,
                    bbox=dict(boxstyle="square,pad=0.22", fc=LABEL_RED, ec="none"),
                    annotation_clip=False, zorder=10)
        ax.annotate("\u2190", xy=(1, val), xycoords=yt, xytext=(p["tag_dx"] - 9, 0),
                    textcoords="offset pixels", ha="left", va="center", color="#333", fontsize=8,
                    family="DejaVu Sans", annotation_clip=False, zorder=10)
    # Log button
    lx = xr - 19
    fig.add_artist(FancyBboxPatch((lx, y0 + 3), 16, 15, boxstyle="round,pad=0,rounding_size=2",
                                  transform=PX, fc="white", ec="#c8c8c8", lw=0.8, zorder=5))
    ftext(lx + 8, y0 + 9, "Log", ha="center", fontsize=6.5, color="#a8a8a8", zorder=6)
    line(lx + 3, y0 + 15, lx + 13, y0 + 15, "#d0d0d0", 0.8, z=6)

    # x label strip
    sx0, sy0, sx1, sy1 = p["strip"]
    rect(sx0, sy0, sx1, sy1, "#f0f0f0")
    line(sx0, sy0, sx1, sy0, "#a6a6a6", 1.6)
    sax = px_axes(x0, sy0, x1, sy1)
    sax.set_facecolor("none")
    for s in sax.spines.values():
        s.set_visible(False)
    sax.set_xticks([])
    sax.set_yticks([])
    sax.set_xlim(-1.3, n + 0.9)
    sax.set_ylim(sy1 - sy0, 0)
    for d, lab in zip(month_day, month_labels):
        sax.plot([d, d], [0, 6], color="#555", linewidth=0.9, clip_on=True)
        sax.text(d, p["lab_y"], "  " + lab, ha="left", va="center", fontsize=8, color="#333",
                 clip_on=True)
    # toolbar icons at the right of the strip
    iy = sy0 + 2
    rect(xr - 73, iy, xr - 60, iy + 14, "#f2f6fb", ec="#a9c1de", lw=0.8, z=5)
    ftext(xr - 66.5, iy + 7, "\u2248", ha="center", color="#6b98d4", fontsize=9,
          family="DejaVu Sans", zorder=6)
    rect(xr - 51, iy + 1, xr - 39, iy + 13, "none", ec="#8b52c9", lw=1.8, z=5)
    rect(xr - 48, iy + 7, xr - 42, iy + 13, "#8b52c9", z=5)
    ftext(xr - 30, iy + 7, "\u22a3", ha="center", color="#555", fontsize=7,
          family="DejaVu Sans", zorder=6)
    rect(xr - 17, iy, xr - 3, iy + 14, "black", ec="#bdbdbd", lw=0.8, z=5)


geo_tl = dict(plot=(0, 14, 781, 367), right=833, hdr=(0, 0, 833, 14), strip=(0, 367, 833, 386),
              hdr_w=395, tag_dx=11, lab_y=11)
geo_tr = dict(plot=(842, 14, 1656, 367), right=1706, hdr=(841, 0, 1706, 14),
              strip=(841, 367, 1706, 386), hdr_w=412, tag_dx=9, lab_y=11)
geo_bl = dict(plot=(0, 440, 782, 827), right=833, hdr=(0, 427, 833, 440), strip=(0, 827, 833, 850),
              hdr_w=407, tag_dx=10, lab_y=11)
geo_br = dict(plot=(842, 440, 1656, 827), right=1706, hdr=(841, 427, 1706, 440),
              strip=(841, 827, 1706, 850), hdr_w=454, tag_dx=9, lab_y=11)

panels = [
    dict(geo_tl, o=bbva_open, h=bbva_high, l=bbva_low, c=bbva_close,
         ma=[(bbva_fast_day, bbva_fast, GREEN), (bbva_mid_day, bbva_mid, RED),
             (bbva_slow_day, bbva_slow, BLACK)],
         ylim=bbva_ylim, major=bbva_major, minor=bbva_minor, tags=bbva_tags,
         tag_text=bbva_tag_text, header=bbva_header),
    dict(geo_tr, o=rovi_open, h=rovi_high, l=rovi_low, c=rovi_close,
         ma=[(rovi_fast_day, rovi_fast, GREEN), (rovi_mid_day, rovi_mid, RED),
             (rovi_slow_day, rovi_slow, BLACK)],
         ylim=rovi_ylim, major=rovi_major, minor=rovi_minor, tags=rovi_tags,
         tag_text=rovi_tag_text, header=rovi_header),
    dict(geo_bl, o=clnx_open, h=clnx_high, l=clnx_low, c=clnx_close,
         ma=[(clnx_fast_day, clnx_fast, GREEN), (clnx_mid_day, clnx_mid, RED),
             (clnx_slow_day, clnx_slow, BLACK)],
         ylim=clnx_ylim, major=clnx_major, minor=clnx_minor, tags=clnx_tags,
         tag_text=clnx_tag_text, header=clnx_header),
    dict(geo_br, o=edr_open, h=edr_high, l=edr_low, c=edr_close,
         ma=[(edr_fast_day, edr_fast, GREEN), (edr_mid_day, edr_mid, RED),
             (edr_slow_day, edr_slow, BLACK)],
         ylim=edr_ylim, major=edr_major, minor=edr_minor, tags=edr_tags,
         tag_text=edr_tag_text, header=edr_header),
]

# window chrome between the charts
rect(833, 0, 841, H, "#e4e4e4")
line(833.5, 0, 833.5, H, "#c4c4c4", 1)
line(840.5, 0, 840.5, H, "#c4c4c4", 1)
for xa, xb in [(0, 833), (841, 1706)]:
    # scroll bar row
    rect(xa, 386, xb, 400, "#f0f0f0")
    ftext(xa + 4, 393, "<", fontsize=8, color="#333", weight="bold")
    ftext(xb - 9, 393, ">", fontsize=8, color="#333", weight="bold")
    rect(xb - 31, 388, xb - 17, 399, "#cdcdcd")
    line(xa, 400.5, xb, 400.5, "#c8c8c8", 1)
    # tab row
    rect(xa, 401, xb, 426, "#fbfbfb")
    line(xa, 426.5, xb, 426.5, "#b8b8b8", 1)
    ftext(xa + 3, 415, "\u25c1", fontsize=7, color="#999", family="DejaVu Sans")
    ftext(xb - 12, 415, "\u25b7", fontsize=7, color="#999", family="DejaVu Sans")

fig.add_artist(Polygon([(12, 426), (22, 407), (117, 407), (117, 426)], closed=True, transform=PX,
                       fc="white", ec="#b4b4b4", lw=0.8, zorder=1))
ftext(35, 417, "CLNX.MC 1 D", fontsize=8, color="#333")
ftext(105, 417, "\u00d7", fontsize=9, color="#777")
fig.add_artist(Polygon([(852, 426), (864, 408), (951, 408), (951, 426)], closed=True, transform=PX,
                       fc="#e6a76a", ec="#cf8a4a", lw=0.8, zorder=1))
ftext(874, 417, "EDR.MC 1 D", fontsize=8, color="white", weight="bold")
ftext(940, 417, "\u00d7", fontsize=9, color="#f3cfa8")

for p in panels:
    draw_panel(p)

fig.savefig("out.png", dpi=100, facecolor=fig.get_facecolor())
